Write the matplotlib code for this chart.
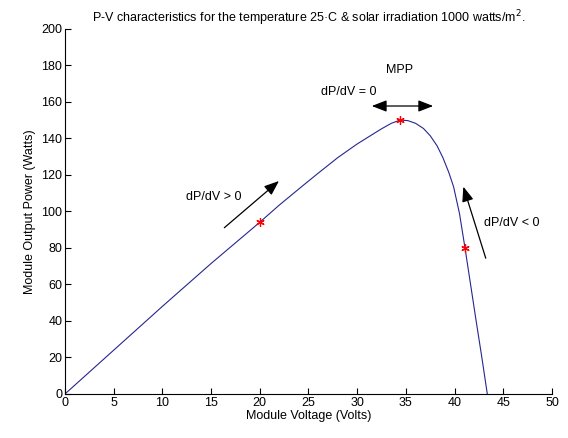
import numpy as np
import matplotlib
matplotlib.use("Agg")
import matplotlib.pyplot as plt

plt.rcParams['font.family'] = ['Liberation Sans', 'DejaVu Sans']

# P-V curve
volts = [0, 5, 10, 15, 20, 22, 24.5, 26, 28, 30, 31.5, 32.5, 33.5, 34.4, 35.2,
         36.0, 36.8, 37.5, 38.2, 38.8, 39.4, 39.9, 40.5, 41.07, 41.6, 42.2,
         42.8, 43.36]
power = [0, 24, 48, 71.5, 94.1, 103.5, 114.5, 121, 129.5, 137, 142, 145.3,
         148.3, 150.1, 149.8, 148.3, 145.5, 141.5, 136, 129.5, 121.5, 113.5,
         99, 80, 61.5, 40.5, 20, 0]

# marked operating points
mark_v = [20, 34.4, 41.07]
mark_p = [94.1, 150.1, 80]

xticks = list(range(0, 51, 5))
yticks = list(range(0, 201, 20))

fig = plt.figure(figsize=(5.68, 4.38), dpi=100)
ax = fig.add_axes([0.1144, 0.1005, 0.8574, 0.8333])

ax.plot(volts, power, color='#26268f', lw=0.8)
ax.plot(mark_v, mark_p, ls='none', marker=(6, 2, 0), color='red', ms=6, mew=0.9)

ax.set_xlim(0, 50)
ax.set_ylim(0, 200)
ax.set_xticks(xticks)
ax.set_yticks(yticks)
ax.spines['top'].set_visible(False)
ax.spines['right'].set_visible(False)
ax.tick_params(direction='in', length=4, labelsize=9, pad=2)
ax.set_xlabel('Module Voltage (Volts)', fontsize=9, labelpad=1)
ax.set_ylabel('Module Output Power (Watts)', fontsize=9, labelpad=4)
ax.set_title('P-V characteristics for the temperature 25\u00b7C & solar irradiation 1000 watts/m$^2$.',
             fontsize=9, pad=5)

arr = dict(arrowstyle='-|>,head_length=0.9,head_width=0.35', color='black', lw=0.9,
           shrinkA=0, shrinkB=0)
ax.annotate('', xy=(21.97, 116.7), xytext=(16.36, 91.1), arrowprops=arr)
ax.annotate('', xy=(40.9, 113.6), xytext=(43.2, 74.4), arrowprops=arr)
arr2 = dict(arrowstyle='<|-|>,head_length=0.9,head_width=0.35', color='black', lw=0.9,
            shrinkA=0, shrinkB=0)
ax.annotate('', xy=(37.8, 157.8), xytext=(31.5, 157.8), arrowprops=arr2)

ax.text(12.4, 108.1, 'dP/dV > 0', fontsize=9, va='center', ha='left')
ax.text(26.3, 165.6, 'dP/dV = 0', fontsize=9, va='center', ha='left')
ax.text(33.0, 177.5, 'MPP', fontsize=9, va='center', ha='left')
ax.text(43.0, 93.7, 'dP/dV < 0', fontsize=9, va='center', ha='left')

fig.savefig('out.png', dpi=100)
